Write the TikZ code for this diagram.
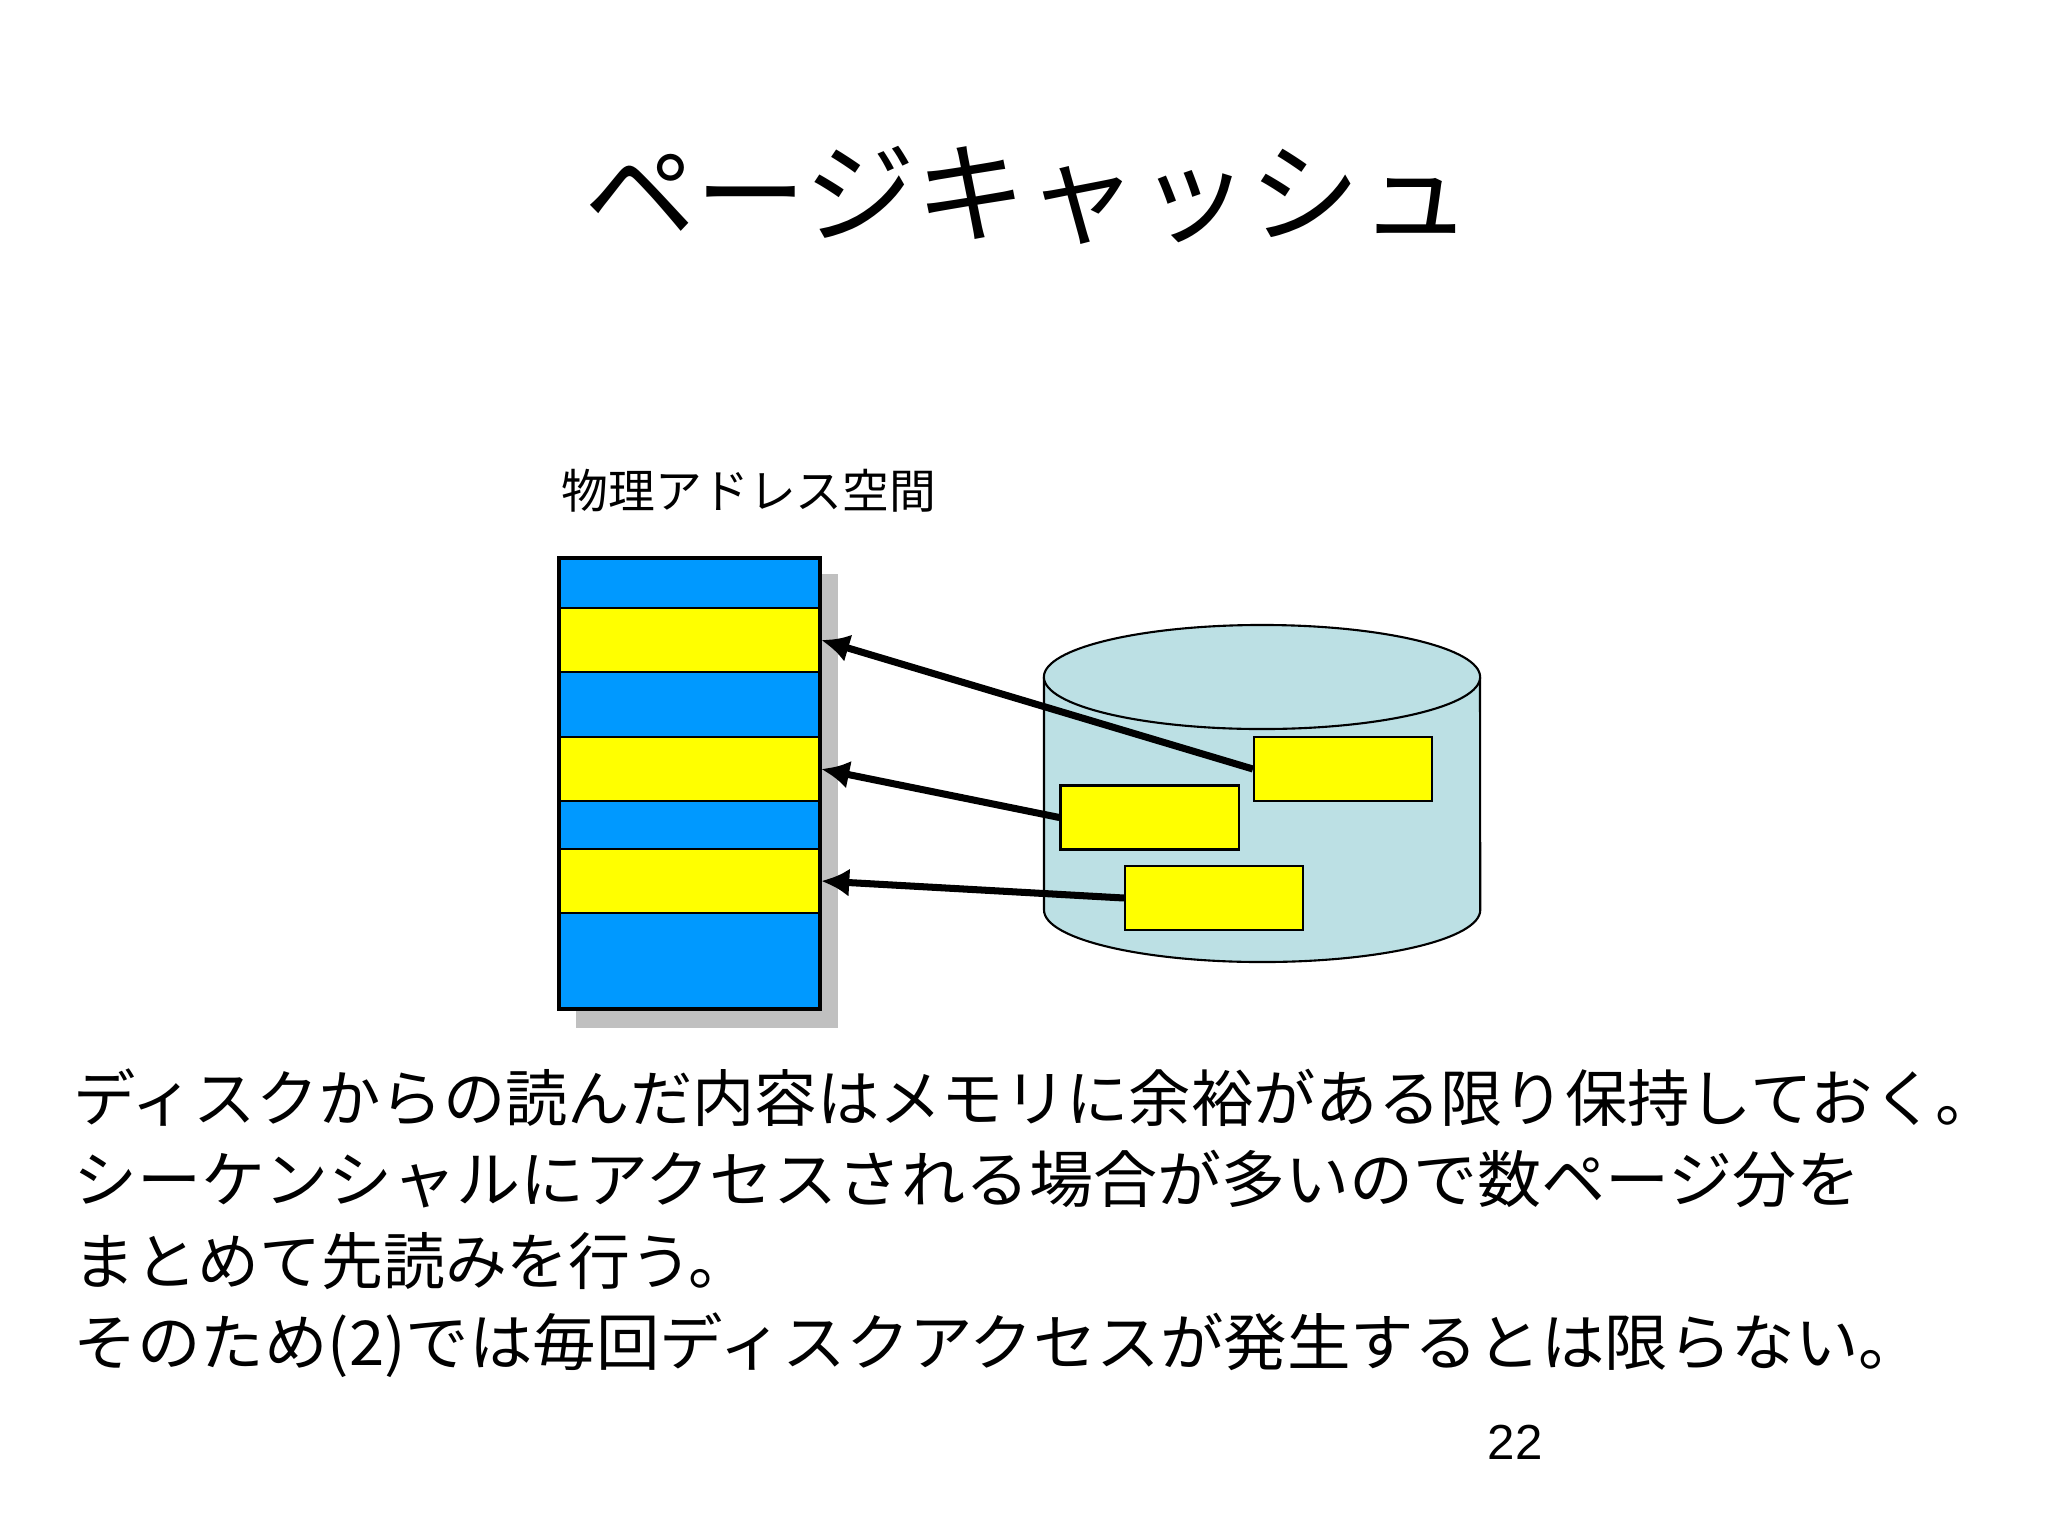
\documentclass[tikz,border=0pt]{standalone}
\usepackage{fontspec}
\setmainfont{Noto Sans CJK JP}
\newfontfamily\numfont{Liberation Sans}
\usetikzlibrary{arrows.meta}
\definecolor{memblue}{RGB}{0,153,255}
\definecolor{pageyellow}{RGB}{255,255,0}
\definecolor{diskcyan}{RGB}{188,224,228}
\definecolor{shadowgray}{RGB}{192,192,192}
\tikzset{
  band/.style={draw,line width=0.6pt,fill=pageyellow,minimum width=2.61cm,minimum height=0.64cm,inner sep=0pt},
  blk/.style={draw,line width=0.6pt,fill=pageyellow,minimum width=1.78cm,minimum height=0.64cm,inner sep=0pt},
  fetch/.style={line width=2pt,-{Latex[length=8pt,width=8pt]}},
  disk/.style={draw,line width=0.6pt,fill=diskcyan},
  bodytext/.style={anchor=base west,inner sep=0pt,font=\fontsize{17.6pt}{22pt}\selectfont}
}
\begin{document}
\begin{tikzpicture}[x=0.01cm,y=-0.01cm]
\useasboundingbox[fill=white](0,0)rectangle(2048,1536);
\node[anchor=base,inner sep=0pt,font=\fontsize{31.6pt}{38pt}\selectfont](title)at(1028,234){ページキャッシュ};
\node[anchor=base,inner sep=0pt,font=\fontsize{13.3pt}{16pt}\selectfont](memlabel)at(749,508){物理アドレス空間};
% memory
\fill[shadowgray](576,574)rectangle(838,1028);
\fill[memblue](559,558)rectangle(820,1009);
\node[band](m1)at(689.5,640){};
\node[band](m2)at(689.5,769){};
\node[band](m3)at(689.5,881){};
\draw[line width=1pt](559,558)rectangle(820,1009);
% disk
\path[disk](1044,677)--(1044,910)arc[start angle=180,end angle=360,x radius=2.18cm,y radius=0.52cm]--(1480,677);
\path[disk](1262,677)ellipse[x radius=2.18cm,y radius=0.52cm];
\node[blk](d1)at(1343,769){};
\node[blk](d2)at(1149.5,817.5){};
\node[blk](d3)at(1214,898){};
\draw[fetch](d1.west)--(m1.east);
\draw[fetch](d2.west)--(m2.east);
\draw[fetch](d3.west)--(m3.east);
% text
\node[bodytext](line1)at(73,1121){\scalebox{1.007}[1]{ディスクからの読んだ内容はメモリに余裕がある限り保持しておく。}};
\node[bodytext](line2)at(73,1202){\scalebox{1.035}[1]{シーケンシャルにアクセスされる場合が多いので数ページ分を}};
\node[bodytext](line3)at(73,1284){まとめて先読みを行う。};
\node[bodytext](line4)at(73,1365){\scalebox{1.026}[1]{そのため(2)では毎回ディスクアクセスが発生するとは限らない。}};
\node[inner sep=0pt,font=\numfont\fontsize{14pt}{17pt}\selectfont](pagenum)at(1515,1442){22};
\end{tikzpicture}
\end{document}
